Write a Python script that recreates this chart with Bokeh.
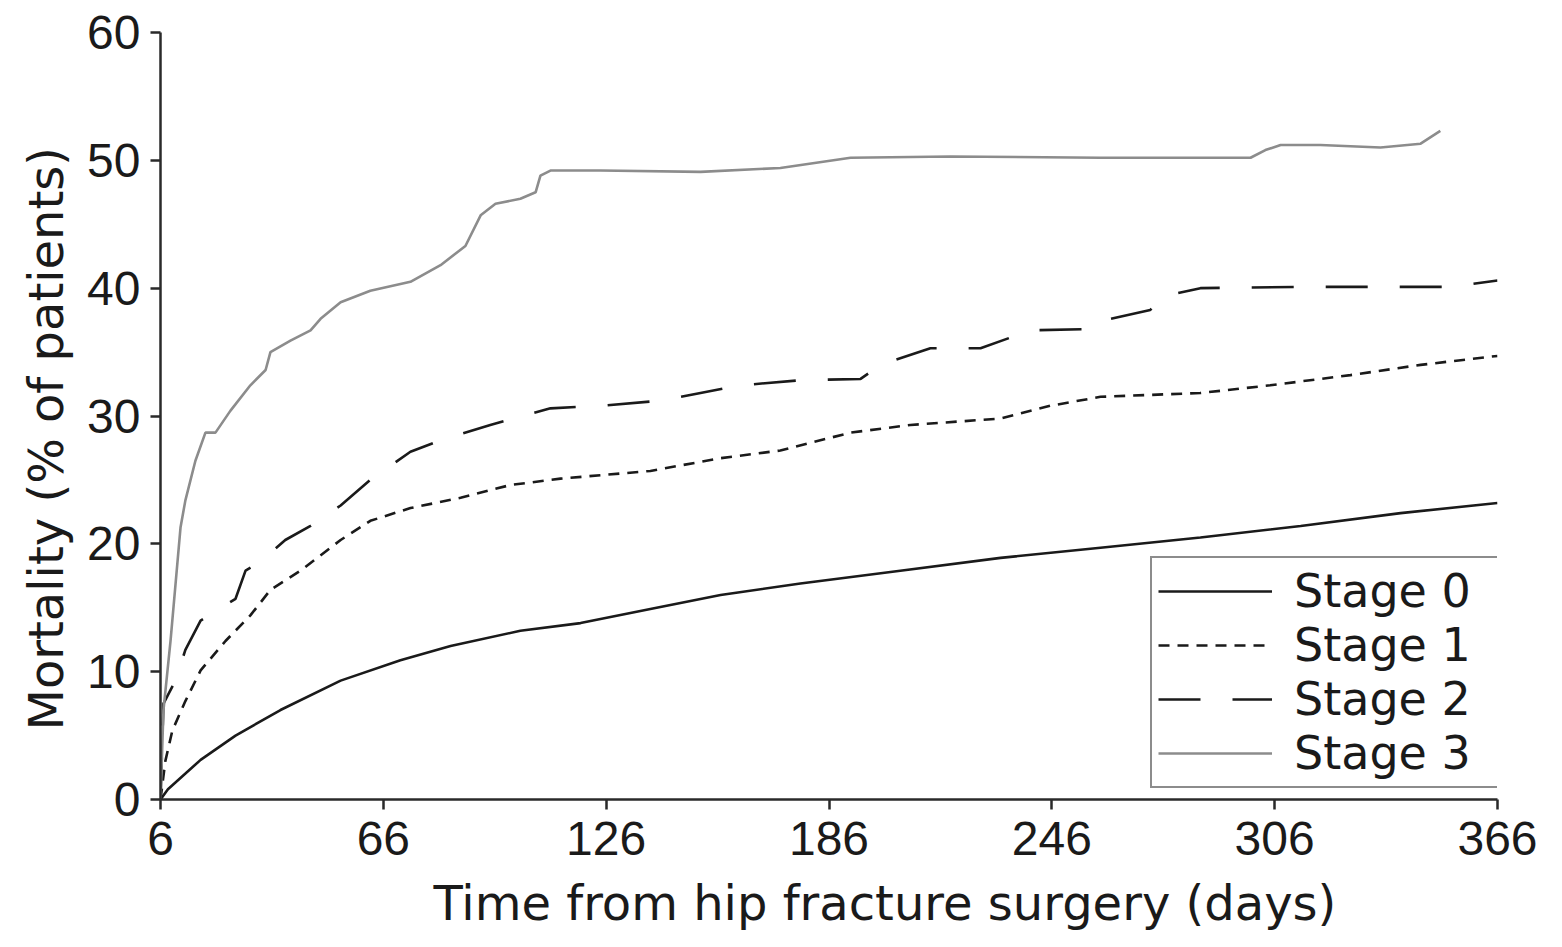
from bokeh.plotting import figure
from bokeh.models import Legend, LegendItem, FixedTicker, Range1d, Title
from bokeh.embed import file_html
from bokeh.resources import INLINE

# Cumulative mortality (%) by days after hip fracture surgery
stage0_days = [6, 8, 16.8, 26.2, 38.3, 54.5, 70.6, 84.1, 102.9, 119.1, 137.9, 156.8, 178.3, 205.2, 232.2, 259.1, 286, 313, 339.9, 366]
stage0_vals = [0, 0.8, 3.1, 5.0, 7.0, 9.3, 10.9, 12.0, 13.2, 13.8, 14.9, 16.0, 16.9, 17.9, 18.9, 19.7, 20.5, 21.4, 22.4, 23.2]

stage1_days = [6, 7.3, 9.2, 12.7, 16.8, 23.5, 30.2, 35.6, 43.7, 54.5, 62.5, 73.3, 86.8, 100.2, 113.7, 137.9, 156.8, 172.9, 191.8, 207.9, 232.2, 245.6, 259.1, 286, 304.8, 326.4, 345.3, 366]
stage1_vals = [0, 3.0, 5.4, 7.7, 10.1, 12.4, 14.4, 16.4, 17.9, 20.3, 21.8, 22.8, 23.6, 24.6, 25.1, 25.7, 26.7, 27.3, 28.7, 29.3, 29.8, 30.8, 31.5, 31.8, 32.4, 33.2, 34.0, 34.7]

stage2_days = [6, 6.8, 10, 12.7, 16.8, 26.2, 28.9, 32.9, 39.6, 46.4, 54.5, 62.5, 73.3, 81.4, 94.8, 111, 124.5, 140.6, 151.4, 162.2, 178.3, 194.5, 199.9, 213.3, 226.8, 240.3, 256.4, 261.8, 272.5, 276.6, 286, 312.9, 353.3, 366]
stage2_vals = [0, 7.5, 9.3, 11.7, 14.0, 15.7, 17.9, 18.6, 20.3, 21.4, 23.0, 25.0, 27.2, 28.1, 29.3, 30.6, 30.8, 31.2, 31.8, 32.4, 32.8, 32.9, 34.0, 35.3, 35.3, 36.7, 36.8, 37.6, 38.3, 39.4, 40.0, 40.1, 40.1, 40.6]

stage3_days = [6, 6.8, 8.7, 11.4, 12.7, 15.4, 18.1, 20.8, 24.8, 30.2, 34.3, 35.6, 41, 46.4, 49.1, 54.5, 62.5, 73.3, 81.4, 88.1, 92.2, 96.2, 102.9, 107, 108.3, 111, 124.5, 151.4, 172.9, 191.8, 218.7, 259.1, 299.5, 303.5, 307.6, 318.3, 334.5, 345.3, 350.6]
stage3_vals = [0, 7.0, 12.4, 21.3, 23.4, 26.5, 28.7, 28.7, 30.4, 32.4, 33.6, 35.0, 35.9, 36.7, 37.6, 38.9, 39.8, 40.5, 41.8, 43.3, 45.7, 46.6, 47.0, 47.5, 48.8, 49.2, 49.2, 49.1, 49.4, 50.2, 50.3, 50.2, 50.2, 50.8, 51.2, 51.2, 51.0, 51.3, 52.3]

x_ticks = [6, 66, 126, 186, 246, 306, 366]
y_ticks = [0, 10, 20, 30, 40, 50, 60]
labels = ["Stage 0", "Stage 1", "Stage 2", "Stage 3"]
x_title = "Time from hip fracture surgery (days)"
y_title = "Mortality (% of patients)"

TICK_FONT = "Liberation Sans"
TEXT_FONT = "DejaVu Sans"
AXIS_COLOR = "#2a2a2a"
INK = "#1a1a1a"

p = figure(width=1562, height=947, output_backend="svg", toolbar_location=None,
           x_range=Range1d(6, 366), y_range=Range1d(0, 60),
           min_border_left=160, min_border_right=65, min_border_top=32, min_border_bottom=148)
p.outline_line_color = None
p.xgrid.visible = False
p.ygrid.visible = False
p.background_fill_color = "white"
p.border_fill_color = "white"

r0 = p.line(stage0_days, stage0_vals, line_color=INK, line_width=2.6)
r1 = p.line(stage1_days, stage1_vals, line_color=INK, line_width=2.6, line_dash="11 8")
r2 = p.line(stage2_days, stage2_vals, line_color=INK, line_width=2.6, line_dash="42 32")
r3 = p.line(stage3_days, stage3_vals, line_color="#8c8c8c", line_width=2.6)

for ax in (p.xaxis[0], p.yaxis[0]):
    ax.axis_line_color = AXIS_COLOR
    ax.axis_line_width = 2.5
    ax.major_tick_line_color = AXIS_COLOR
    ax.major_tick_line_width = 2.5
    ax.major_tick_in = 0
    ax.major_tick_out = 10
    ax.minor_tick_line_color = None
    ax.major_label_text_font = TICK_FONT
    ax.major_label_text_font_size = "48px"
    ax.major_label_text_color = INK

p.xaxis.ticker = FixedTicker(ticks=x_ticks)
p.yaxis.ticker = FixedTicker(ticks=y_ticks)
p.xaxis.major_label_standoff = 12
p.yaxis.major_label_standoff = 10

# Axis titles as side titles, so they can sit off-centre like the printed figure
p.add_layout(Title(text=x_title, align="left", offset=273, text_font=TEXT_FONT,
                   text_font_size="48px", text_font_style="normal", text_color=INK,
                   standoff=30), "below")
p.add_layout(Title(text=y_title, align="left", offset=69, text_font=TEXT_FONT,
                   text_font_size="48px", text_font_style="normal", text_color=INK,
                   standoff=21), "left")

legend = Legend(items=[LegendItem(label=l, renderers=[r]) for l, r in zip(labels, [r0, r1, r2, r3])],
                location=(990, 11))
legend.label_text_font = TEXT_FONT
legend.label_text_font_size = "46px"
legend.label_text_color = INK
legend.glyph_width = 114
legend.glyph_height = 40
legend.label_height = 40
legend.label_width = 199
legend.spacing = 0
legend.padding = 6
legend.margin = 0
legend.label_standoff = 22
legend.border_line_color = INK
legend.border_line_width = 2.5
legend.background_fill_alpha = 1.0
p.add_layout(legend, "center")

open("out.html", "w").write(file_html(p, INLINE))
